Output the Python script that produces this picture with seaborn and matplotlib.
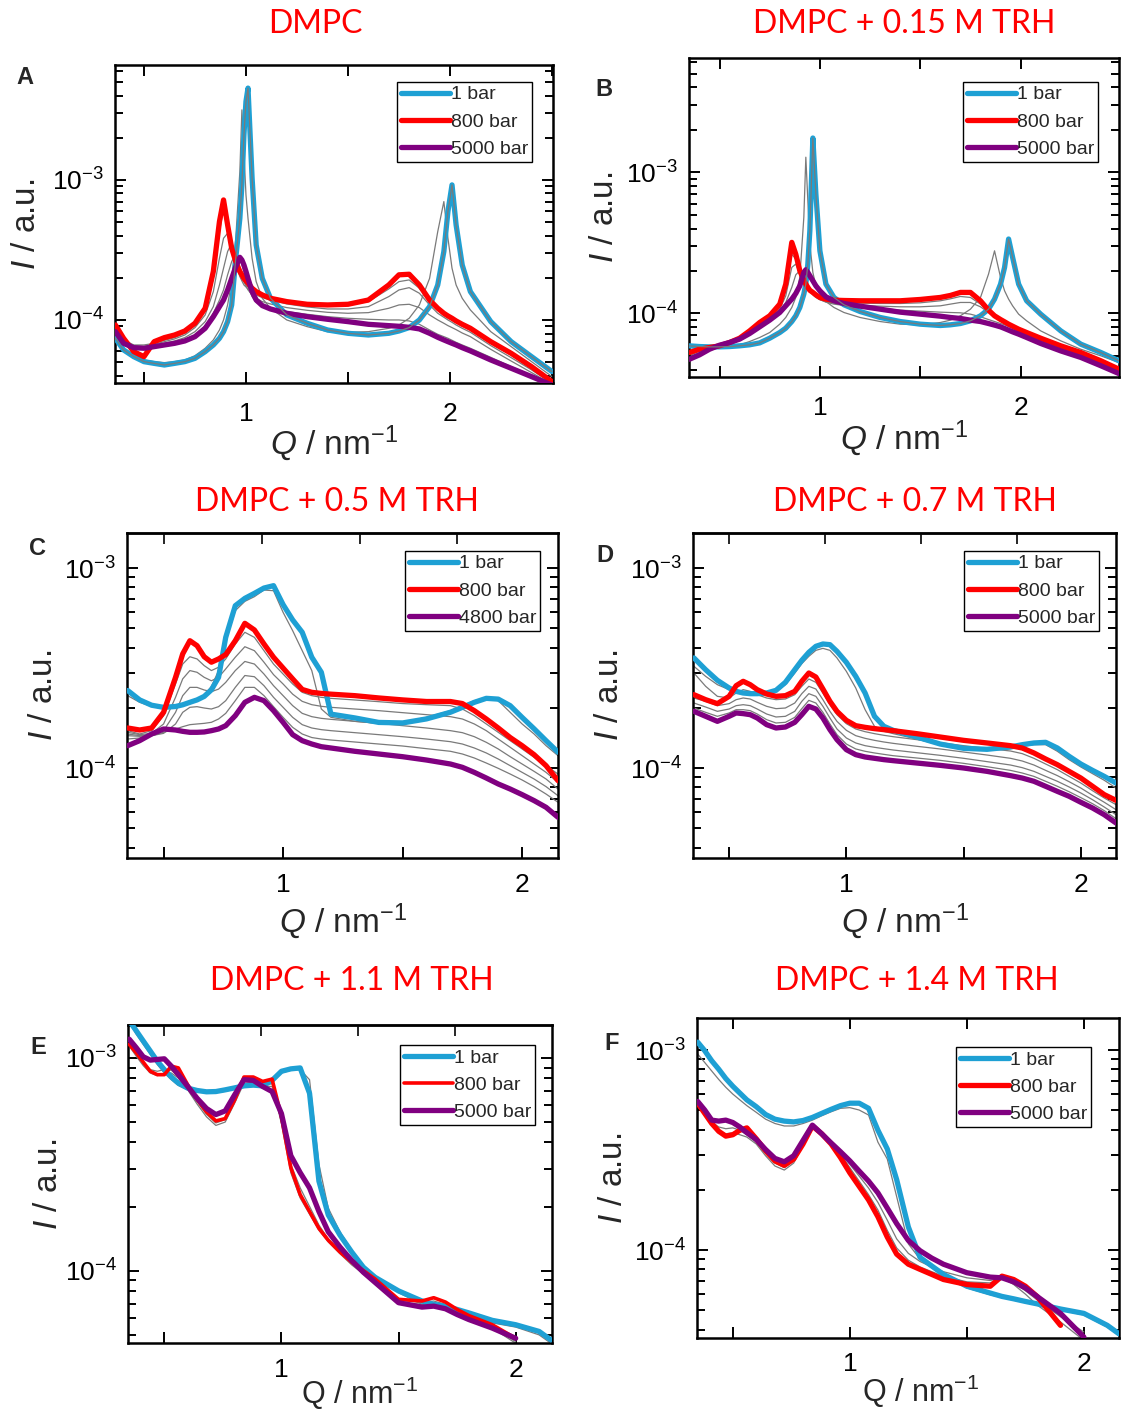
import numpy as np
import matplotlib
matplotlib.use("Agg")
import matplotlib.pyplot as plt
import seaborn as sns
from matplotlib.lines import Line2D
from matplotlib.ticker import (FixedLocator, FuncFormatter, LogLocator,
                               NullFormatter, NullLocator)

# Intensities are given in units of 1e-4 a.u.
UNIT = 1e-4
nan = np.nan

# ---------------- A: DMPC ----------------
q_a = [0.36, 0.40, 0.45, 0.50, 0.55, 0.60, 0.65, 0.70, 0.75, 0.80, 0.84, 0.87, 0.89, 0.91, 0.93,
       0.95, 0.97, 0.98, 0.99, 1.00, 1.01, 1.03, 1.05, 1.08, 1.12, 1.20, 1.30, 1.40, 1.50, 1.60,
       1.70, 1.75, 1.80, 1.85, 1.90, 1.94, 1.97, 1.99, 2.01, 2.03, 2.06, 2.10, 2.20, 2.30, 2.40, 2.50]
a_1bar = [0.740, 0.611, 0.547, 0.504, 0.490, 0.477, 0.490, 0.504, 0.532, 0.594, 0.663, 0.740, 0.825,
          0.973, 1.28, 2.76, 5.31, 9.2, 21.0, 36.3, 45.2, 10.3, 3.43, 1.98, 1.43, 1.086, 0.947, 0.848,
          0.803, 0.781, 0.803, 0.834, 0.882, 1.0, 1.245, 1.778, 3.08, 5.95, 9.21, 4.77, 2.47, 1.594,
          0.973, 0.700, 0.547, 0.428]
a_800bar = [0.921, 0.740, 0.594, 0.547, 0.700, 0.748, 0.781, 0.834, 0.947, 1.212, 2.22, 5.04, 7.19,
            4.77, 3.25, 2.61, 2.22, 2.10, 1.98, 1.90, 1.83, 1.683, 1.594, 1.509, 1.428, 1.352, 1.294,
            1.280, 1.294, 1.388, 1.778, 2.10, 2.12, 1.778, 1.388, 1.212, 1.116, 1.068, 1.028, 0.984,
            0.931, 0.872, 0.700, 0.578, 0.464, 0.363]
a_5000bar = [0.825, 0.681, 0.634, 0.628, 0.645, 0.663, 0.681, 0.708, 0.760, 0.872, 1.056, 1.245,
             1.388, 1.638, 1.98, 2.40, 2.80, 2.68, 2.47, 2.22, 1.98, 1.594, 1.388, 1.266, 1.198,
             1.116, 1.056, 1.011, 0.973, 0.931, 0.911, 0.901, 0.886, 0.863, 0.803, 0.752, 0.720,
             0.700, 0.681, 0.663, 0.634, 0.601, 0.518, 0.452, 0.394, 0.343]
a_g1 = [0.720, 0.611, 0.556, 0.518, 0.504, 0.496, 0.504, 0.518, 0.556, 0.628, 0.720, 0.848, 1.0, 1.28,
        1.878, 3.83, 11.5, 31.6, 15.9, 7.8, 5.31, 2.76, 1.878, 1.428, 1.212, 1.0, 0.896, 0.825, 0.817,
        0.825, 0.872, 0.921, 1.028, 1.28, 1.98, 4.27, 7.00, 3.83, 2.34, 1.778, 1.428, 1.179, 0.825,
        0.645, 0.504, 0.394]
a_g2 = [0.896, 0.720, 0.663, 0.663, 0.681, 0.716, 0.748, 0.803, 0.921, 1.179, 1.98, 4.27, 6.28, 4.51,
        3.08, 2.40, 2.10, 1.98, 1.878, 1.80, 1.73, 1.638, 1.576, 1.509, 1.452, 1.367, 1.308, 1.280,
        1.280, 1.352, 1.665, 1.878, 1.931, 1.683, 1.352, 1.179, 1.086, 1.039, 1.0, 0.962, 0.911,
        0.848, 0.681, 0.562, 0.452, 0.359]
a_g3 = [0.872, 0.708, 0.656, 0.648, 0.670, 0.700, 0.732, 0.781, 0.882, 1.086, 1.594, 2.76, 3.83, 4.16,
        3.25, 2.47, 2.04, 1.90, 1.778, 1.72, 1.665, 1.576, 1.509, 1.444, 1.388, 1.301, 1.239, 1.198,
        1.198, 1.245, 1.468, 1.638, 1.701, 1.551, 1.280, 1.116, 1.045, 1.0, 0.962, 0.921, 0.872,
        0.817, 0.656, 0.538, 0.440, 0.353]
a_g4 = [0.848, 0.700, 0.645, 0.638, 0.656, 0.681, 0.708, 0.748, 0.825, 0.973, 1.245, 1.778, 2.34,
        3.08, 3.53, 3.08, 2.34, 2.10, 1.878, 1.75, 1.638, 1.509, 1.428, 1.352, 1.301, 1.225, 1.172,
        1.134, 1.116, 1.128, 1.212, 1.280, 1.294, 1.225, 1.086, 1.0, 0.947, 0.911, 0.882, 0.853,
        0.807, 0.760, 0.617, 0.509, 0.421, 0.347]
a_g5 = [0.834, 0.689, 0.638, 0.631, 0.648, 0.670, 0.692, 0.724, 0.781, 0.911, 1.116, 1.388, 1.638,
        2.10, 2.61, 2.99, 2.76, 2.47, 2.22, 1.95, 1.73, 1.468, 1.338, 1.266, 1.212, 1.147, 1.098,
        1.056, 1.028, 1.011, 1.0, 1.0, 0.984, 0.931, 0.848, 0.790, 0.760, 0.740, 0.716, 0.692, 0.663,
        0.628, 0.541, 0.464, 0.400, 0.343]

# ---------------- B: DMPC + 0.15 M TRH ----------------
q_b = [0.35, 0.40, 0.45, 0.50, 0.55, 0.60, 0.65, 0.70, 0.75, 0.80, 0.83, 0.86, 0.88, 0.90, 0.92,
       0.93, 0.94, 0.95, 0.965, 0.98, 1.00, 1.03, 1.07, 1.12, 1.20, 1.30, 1.40, 1.50, 1.60, 1.65,
       1.70, 1.75, 1.80, 1.84, 1.87, 1.90, 1.92, 1.94, 1.96, 1.99, 2.03, 2.10, 2.20, 2.30, 2.40, 2.49]
b_1bar = [0.590, 0.583, 0.580, 0.580, 0.583, 0.590, 0.600, 0.619, 0.668, 0.733, 0.787, 0.877, 0.963,
          1.103, 1.371, 1.615, 2.24, 3.86, 17.5, 7.02, 2.78, 1.615, 1.299, 1.152, 1.033, 0.937,
          0.877, 0.840, 0.822, 0.831, 0.849, 0.887, 0.963, 1.073, 1.264, 1.615, 2.12, 3.37, 2.50,
          1.615, 1.230, 0.989, 0.753, 0.606, 0.529, 0.462]
b_800bar = [0.529, 0.558, 0.574, 0.590, 0.623, 0.668, 0.753, 0.863, 0.963, 1.165, 1.615, 3.19, 2.63,
            2.01, 1.72, 1.615, 1.53, 1.46, 1.41, 1.356, 1.299, 1.264, 1.243, 1.236, 1.230, 1.230,
            1.230, 1.257, 1.299, 1.342, 1.41, 1.41, 1.230, 1.056, 0.963, 0.906, 0.873, 0.840, 0.813,
            0.774, 0.733, 0.668, 0.590, 0.529, 0.462, 0.403]
b_5000bar = [0.474, 0.509, 0.558, 0.596, 0.623, 0.658, 0.721, 0.804, 0.897, 1.016, 1.133, 1.264,
             1.386, 1.571, 1.954, 2.04, 1.954, 1.85, 1.705, 1.571, 1.448, 1.313, 1.230, 1.177, 1.127,
             1.073, 1.022, 0.989, 0.957, 0.937, 0.922, 0.897, 0.877, 0.849, 0.827, 0.804, 0.783,
             0.762, 0.741, 0.714, 0.676, 0.613, 0.543, 0.488, 0.426, 0.375]
b_g1 = [0.543, 0.558, 0.568, 0.574, 0.583, 0.600, 0.633, 0.676, 0.733, 0.840, 0.937, 1.103, 1.299,
        1.80, 4.80, 12.8, 6.30, 3.10, 1.954, 1.571, 1.371, 1.216, 1.103, 1.016, 0.937, 0.877, 0.840,
        0.831, 0.863, 0.897, 0.963, 1.073, 1.299, 1.90, 2.78, 1.80, 1.448, 1.264, 1.133, 0.989,
        0.887, 0.753, 0.640, 0.558, 0.501, 0.449]
b_g2 = [0.501, 0.543, 0.568, 0.590, 0.619, 0.661, 0.733, 0.831, 0.937, 1.103, 1.448, 2.63, 2.43, 1.92,
        1.68, 1.589, 1.512, 1.448, 1.386, 1.335, 1.285, 1.243, 1.216, 1.197, 1.184, 1.177, 1.177,
        1.190, 1.230, 1.270, 1.320, 1.299, 1.165, 1.033, 0.952, 0.897, 0.863, 0.831, 0.804, 0.766,
        0.726, 0.658, 0.580, 0.520, 0.457, 0.396]
b_g3 = [0.493, 0.529, 0.565, 0.593, 0.619, 0.658, 0.726, 0.813, 0.917, 1.073, 1.335, 2.12, 2.24, 1.90,
        1.632, 1.554, 1.479, 1.424, 1.356, 1.299, 1.250, 1.210, 1.184, 1.165, 1.146, 1.127, 1.115,
        1.115, 1.133, 1.165, 1.197, 1.197, 1.115, 1.016, 0.947, 0.887, 0.854, 0.822, 0.796, 0.753,
        0.714, 0.640, 0.568, 0.509, 0.444, 0.388]
b_g4 = [0.482, 0.520, 0.562, 0.593, 0.619, 0.654, 0.721, 0.804, 0.902, 1.033, 1.197, 1.53, 1.88, 2.01,
        1.752, 1.641, 1.546, 1.479, 1.394, 1.320, 1.257, 1.203, 1.165, 1.140, 1.115, 1.085, 1.056,
        1.039, 1.022, 1.016, 1.011, 0.989, 0.947, 0.906, 0.877, 0.849, 0.831, 0.809, 0.783, 0.741,
        0.702, 0.630, 0.558, 0.501, 0.437, 0.382]

# ---------------- C: DMPC + 0.5 M TRH ----------------
q_c = [0.35, 0.40, 0.45, 0.50, 0.55, 0.58, 0.61, 0.64, 0.67, 0.70, 0.73, 0.76, 0.80, 0.84, 0.88,
       0.92, 0.96, 1.00, 1.04, 1.08, 1.12, 1.16, 1.20, 1.30, 1.40, 1.50, 1.60, 1.70, 1.75, 1.80,
       1.85, 1.90, 1.95, 2.00, 2.05, 2.10, 2.15]
c_1bar = [2.44, 2.19, 2.06, 2.01, 2.03, 2.07, 2.13, 2.19, 2.28, 2.46, 2.84, 4.50, 6.48, 7.05, 7.47,
          7.94, 8.16, 6.56, 5.50, 4.77, 3.58, 3.01, 1.86, 1.78, 1.69, 1.68, 1.76, 1.90, 2.01, 2.13,
          2.23, 2.21, 2.05, 1.79, 1.57, 1.37, 1.20]
c_800bar = [1.585, 1.549, 1.585, 1.898, 2.84, 3.72, 4.33, 4.09, 3.60, 3.38, 3.51, 3.69, 4.33, 5.29,
            4.90, 4.17, 3.58, 3.16, 2.79, 2.47, 2.39, 2.36, 2.34, 2.30, 2.24, 2.19, 2.15, 2.15, 2.10,
            1.935, 1.758, 1.585, 1.42, 1.293, 1.166, 1.027, 0.864]
c_4800bar = [1.293, 1.37, 1.479, 1.567, 1.549, 1.525, 1.508, 1.508, 1.514, 1.537, 1.567, 1.628, 1.827,
             2.13, 2.256, 2.171, 1.935, 1.692, 1.468, 1.37, 1.318, 1.278, 1.259, 1.212, 1.175, 1.139,
             1.096, 1.047, 1.008, 0.951, 0.891, 0.832, 0.785, 0.736, 0.687, 0.636, 0.567]
c_g0 = [2.30, 2.13, 2.034, 1.995, 2.011, 2.05, 2.10, 2.188, 2.326, 2.551, 3.07, 4.33, 6.12, 6.81, 7.19,
        7.76, 7.70, 6.00, 4.86, 3.86, 3.07, 1.972, 1.792, 1.711, 1.672, 1.692, 1.792, 1.935, 2.05,
        2.171, 2.213, 2.171, 1.898, 1.66, 1.479, 1.293, 1.153]
c_g1 = [1.537, 1.479, 1.537, 1.827, 2.63, 3.31, 3.60, 3.51, 3.25, 3.07, 3.19, 3.51, 4.17, 4.77, 4.50,
        3.86, 3.31, 2.95, 2.63, 2.39, 2.30, 2.256, 2.23, 2.188, 2.146, 2.10, 2.073, 2.05, 1.972, 1.827,
        1.66, 1.508, 1.37, 1.245, 1.131, 1.027, 0.933]
c_g2 = [1.508, 1.468, 1.490, 1.66, 2.256, 2.79, 3.07, 3.01, 2.84, 2.73, 2.84, 3.13, 3.58, 4.04, 3.86,
        3.38, 2.93, 2.63, 2.34, 2.154, 2.073, 2.034, 2.011, 1.972, 1.935, 1.891, 1.848, 1.806, 1.758,
        1.66, 1.537, 1.396, 1.269, 1.153, 1.047, 0.951, 0.848]
c_g3 = [1.479, 1.451, 1.468, 1.537, 1.898, 2.30, 2.53, 2.53, 2.455, 2.408, 2.48, 2.68, 3.07, 3.41, 3.31,
        2.95, 2.58, 2.30, 2.05, 1.876, 1.806, 1.771, 1.751, 1.711, 1.672, 1.628, 1.585, 1.537, 1.502,
        1.434, 1.344, 1.245, 1.139, 1.047, 0.962, 0.881, 0.785]
c_g4 = [1.451, 1.440, 1.451, 1.490, 1.66, 1.898, 2.011, 2.026, 1.995, 1.972, 2.026, 2.171, 2.53, 2.90,
        2.86, 2.58, 2.256, 2.011, 1.792, 1.647, 1.585, 1.555, 1.537, 1.502, 1.468, 1.434, 1.396, 1.354,
        1.318, 1.259, 1.189, 1.109, 1.027, 0.951, 0.881, 0.807, 0.727]
c_g5 = [1.396, 1.413, 1.451, 1.508, 1.567, 1.609, 1.647, 1.66, 1.672, 1.692, 1.758, 1.876, 2.171, 2.53,
        2.53, 2.30, 2.026, 1.792, 1.597, 1.479, 1.42, 1.396, 1.380, 1.349, 1.318, 1.288, 1.249, 1.212,
        1.175, 1.122, 1.059, 0.996, 0.933, 0.871, 0.807, 0.741, 0.674]

# ---------------- D: DMPC + 0.7 M TRH ----------------
q_d = [0.35, 0.40, 0.45, 0.50, 0.53, 0.56, 0.59, 0.62, 0.66, 0.70, 0.74, 0.78, 0.81, 0.84, 0.87,
       0.90, 0.93, 0.96, 1.00, 1.04, 1.08, 1.12, 1.16, 1.20, 1.30, 1.40, 1.50, 1.60, 1.70, 1.75,
       1.80, 1.85, 1.90, 1.95, 2.00, 2.05, 2.10, 2.15]
d_1bar = [3.55, 3.10, 2.744, 2.512, 2.417, 2.371, 2.353, 2.353, 2.371, 2.445, 2.681, 3.10, 3.454, 3.787,
          4.059, 4.169, 4.137, 3.831, 3.376, 2.873, 2.371, 1.813, 1.616, 1.543, 1.429, 1.318, 1.254,
          1.240, 1.274, 1.308, 1.334, 1.344, 1.259, 1.144, 1.047, 0.973, 0.908, 0.841]
d_800bar = [2.326, 2.196, 2.098, 2.282, 2.58, 2.713, 2.61, 2.465, 2.344, 2.282, 2.30, 2.417, 2.713,
            2.985, 2.851, 2.483, 2.154, 1.920, 1.731, 1.628, 1.597, 1.573, 1.555, 1.537, 1.485, 1.429,
            1.375, 1.334, 1.293, 1.259, 1.189, 1.109, 1.039, 0.962, 0.891, 0.810, 0.736, 0.689]
d_5000bar = [1.920, 1.813, 1.711, 1.813, 1.884, 1.870, 1.848, 1.778, 1.647, 1.585, 1.603, 1.692, 1.848,
             2.034, 1.972, 1.778, 1.555, 1.386, 1.235, 1.166, 1.135, 1.118, 1.101, 1.088, 1.059, 1.031,
             1.0, 0.962, 0.916, 0.891, 0.858, 0.810, 0.764, 0.722, 0.674, 0.631, 0.584, 0.531]
d_g0 = [3.224, 2.873, 2.61, 2.465, 2.389, 2.353, 2.335, 2.326, 2.353, 2.417, 2.61, 2.985, 3.324, 3.617,
        3.875, 3.965, 3.875, 3.55, 3.043, 2.512, 1.957, 1.616, 1.525, 1.485, 1.396, 1.303, 1.245,
        1.226, 1.249, 1.284, 1.308, 1.308, 1.212, 1.101, 1.012, 0.937, 0.868, 0.794]
d_g1 = [2.985, 2.561, 2.282, 2.239, 2.371, 2.465, 2.417, 2.326, 2.239, 2.196, 2.213, 2.326, 2.561, 2.786,
        2.681, 2.371, 2.073, 1.848, 1.666, 1.567, 1.519, 1.485, 1.457, 1.434, 1.386, 1.339, 1.293,
        1.254, 1.216, 1.180, 1.118, 1.047, 0.981, 0.908, 0.841, 0.770, 0.708, 0.656]
d_g2 = [2.239, 2.154, 2.05, 2.098, 2.196, 2.239, 2.213, 2.13, 2.034, 1.980, 1.995, 2.113, 2.353, 2.561,
        2.483, 2.196, 1.920, 1.711, 1.543, 1.451, 1.407, 1.375, 1.349, 1.328, 1.284, 1.245, 1.202,
        1.161, 1.118, 1.084, 1.035, 0.973, 0.916, 0.854, 0.794, 0.730, 0.674, 0.619]
d_g3 = [2.113, 2.018, 1.920, 1.972, 2.05, 2.073, 2.05, 1.972, 1.862, 1.799, 1.813, 1.920, 2.154, 2.353,
        2.282, 2.034, 1.778, 1.567, 1.413, 1.334, 1.293, 1.269, 1.249, 1.230, 1.193, 1.157, 1.118,
        1.076, 1.035, 1.004, 0.962, 0.908, 0.858, 0.804, 0.750, 0.694, 0.638, 0.584]
d_g4 = [1.995, 1.898, 1.813, 1.884, 1.957, 1.957, 1.935, 1.862, 1.745, 1.679, 1.692, 1.792, 1.980, 2.179,
        2.113, 1.898, 1.66, 1.468, 1.318, 1.245, 1.212, 1.189, 1.170, 1.152, 1.122, 1.092, 1.055,
        1.015, 0.973, 0.944, 0.908, 0.858, 0.810, 0.761, 0.711, 0.663, 0.612, 0.558]

# ---------------- E: DMPC + 1.1 M TRH ----------------
q_e = [0.35, 0.38, 0.41, 0.44, 0.47, 0.50, 0.53, 0.56, 0.60, 0.64, 0.68, 0.72, 0.76, 0.80, 0.84,
       0.88, 0.92, 0.96, 1.00, 1.04, 1.08, 1.12, 1.16, 1.20, 1.25, 1.30, 1.35, 1.40, 1.50, 1.60,
       1.65, 1.70, 1.75, 1.80, 1.90, 2.00, 2.10, 2.15]
e_1bar = [14.95, 13.40, 12.0, 10.76, 9.64, 8.80, 8.12, 7.60, 7.20, 7.02, 6.92, 6.94, 7.07, 7.22, 7.38,
          7.44, 7.38, 7.83, 8.64, 8.87, 8.96, 6.81, 2.634, 1.827, 1.468, 1.223, 1.037, 0.930, 0.803,
          0.720, 0.694, 0.681, 0.657, 0.633, 0.584, 0.557, 0.518, 0.473]
e_800bar = [11.57, 10.56, 9.54, 8.64, 8.33, 8.33, 9.13, 8.96, 7.46, 6.38, 5.57, 5.05, 5.18, 6.33, 8.12,
            8.12, 7.74, 7.94, 5.28, 3.05, 2.276, 1.896, 1.579, 1.389, 1.223, 1.096, 1.0, 0.913, 0.733,
            0.720, 0.746, 0.712, 0.657, 0.615, 0.557, 0.481, nan, nan]
e_5000bar = [12.23, 11.16, 10.11, 9.75, 9.82, 9.89, 9.13, 8.33, 7.33, 6.45, 5.78, 5.41, 5.63, 6.69, 7.89,
             7.83, 7.33, 6.94, 5.47, 3.47, 2.886, 2.448, 1.896, 1.522, 1.291, 1.116, 0.982, 0.880,
             0.707, 0.674, 0.681, 0.662, 0.622, 0.589, 0.537, 0.481, nan, nan]
e_g0 = [14.68, 12.92, 11.57, 10.37, 9.30, 8.48, 7.89, 7.41, 7.07, 6.92, 6.86, 6.86, 6.96, 7.12, 7.28,
        7.33, 7.28, 7.66, 8.48, 8.74, 8.80, 7.89, 3.16, 1.966, 1.522, 1.245, 1.056, 0.947, 0.788, 0.694,
        0.674, 0.662, 0.638, 0.611, 0.568, 0.543, 0.499, 0.456]
e_g1 = [11.36, 10.18, 9.19, 8.48, 8.24, 8.48, 8.48, 8.03, 7.07, 6.06, 5.28, 4.81, 4.99, 6.11, 7.60,
        7.66, 7.46, 7.55, 4.90, 2.886, 2.194, 1.841, 1.550, 1.364, 1.200, 1.064, 0.964, 0.880, 0.712,
        0.694, 0.707, 0.681, 0.633, 0.593, 0.537, 0.456, nan, nan]
e_g2 = [11.79, 10.56, 9.47, 8.80, 8.64, 8.80, 8.74, 8.18, 7.20, 6.22, 5.43, 4.94, 5.12, 6.22, 7.74,
        7.74, 7.38, 7.33, 5.09, 3.16, 2.448, 2.003, 1.638, 1.405, 1.232, 1.088, 0.982, 0.896, 0.728,
        0.707, 0.720, 0.694, 0.645, 0.600, 0.547, 0.464, nan, nan]

# ---------------- F: DMPC + 1.4 M TRH ----------------
q_f = [0.35, 0.38, 0.41, 0.44, 0.47, 0.50, 0.53, 0.56, 0.60, 0.64, 0.68, 0.72, 0.76, 0.80, 0.84,
       0.88, 0.92, 0.96, 1.00, 1.04, 1.08, 1.12, 1.16, 1.20, 1.25, 1.30, 1.35, 1.40, 1.50, 1.60,
       1.65, 1.70, 1.75, 1.80, 1.90, 2.00, 2.10, 2.15]
f_1bar = [10.94, 9.92, 8.83, 8.01, 7.20, 6.59, 6.09, 5.63, 5.21, 4.76, 4.51, 4.41, 4.37, 4.44, 4.60,
          4.82, 5.05, 5.27, 5.42, 5.42, 5.11, 3.97, 3.20, 2.25, 1.304, 0.918, 0.832, 0.755, 0.659,
          0.609, 0.586, 0.570, 0.553, 0.538, 0.507, 0.482, 0.420, 0.381]
f_800bar = [5.42, 4.82, 4.29, 3.92, 3.71, 3.77, 3.97, 4.08, 3.60, 3.14, 2.79, 2.65, 2.85, 3.39, 4.17,
            3.81, 3.39, 2.90, 2.43, 2.08, 1.78, 1.466, 1.160, 0.954, 0.849, 0.800, 0.755, 0.712,
            0.672, 0.659, 0.740, 0.712, 0.659, 0.586, 0.420, nan, nan, nan]
f_5000bar = [5.53, 5.01, 4.46, 4.41, 4.46, 4.34, 4.12, 3.86, 3.57, 3.18, 2.87, 2.76, 2.96, 3.53, 4.21,
             3.81, 3.43, 3.10, 2.79, 2.48, 2.21, 1.93, 1.62, 1.356, 1.116, 0.992, 0.911, 0.849, 0.770,
             0.732, 0.726, 0.693, 0.646, 0.586, 0.482, 0.367, nan, nan]
f_g0 = [9.54, 8.66, 7.85, 7.12, 6.51, 6.02, 5.63, 5.27, 4.88, 4.51, 4.29, 4.17, 4.17, 4.29, 4.46, 4.69,
        4.91, 5.11, 5.15, 5.01, 4.73, 3.46, 2.85, 1.85, 1.073, 0.900, 0.816, 0.740, 0.646, 0.597,
        0.579, 0.561, 0.546, 0.531, 0.501, 0.473, 0.412, 0.374]
f_g1 = [5.31, 4.73, 4.21, 3.89, 3.81, 3.86, 3.77, 3.67, 3.39, 2.96, 2.63, 2.51, 2.72, 3.33, 4.12, 3.86,
        3.46, 3.02, 2.58, 2.21, 1.89, 1.585, 1.254, 1.024, 0.889, 0.823, 0.779, 0.740, 0.693, 0.685,
        0.726, 0.672, 0.602, 0.531, 0.437, 0.353, nan, nan]
f_g2 = [5.42, 4.88, 4.37, 4.12, 4.04, 4.08, 3.97, 3.77, 3.46, 3.05, 2.72, 2.58, 2.79, 3.43, 4.17, 3.86,
        3.43, 3.05, 2.68, 2.34, 2.04, 1.73, 1.41, 1.137, 0.962, 0.876, 0.823, 0.779, 0.726, 0.704,
        0.726, 0.685, 0.626, 0.563, 0.464, 0.389, nan, nan]

titles = ["DMPC", "DMPC + 0.15 M TRH", "DMPC + 0.5 M TRH",
          "DMPC + 0.7 M TRH", "DMPC + 1.1 M TRH", "DMPC + 1.4 M TRH"]
letters = ["A", "B", "C", "D", "E", "F"]
pressures_default = ["1 bar", "800 bar", "5000 bar"]
pressures_c = ["1 bar", "800 bar", "4800 bar"]

BLUE = "#1ea0d4"
RED = "#ff0000"
PURPLE = "#800080"
GRAY = "#7a7a7a"

sns.set_style("ticks")
plt.rcParams["font.family"] = ["Liberation Sans", "DejaVu Sans"]
plt.rcParams["mathtext.fontset"] = "custom"
plt.rcParams["mathtext.rm"] = "Liberation Sans"
plt.rcParams["mathtext.it"] = "Liberation Sans:italic"
plt.rcParams["mathtext.bf"] = "Liberation Sans:bold"

W, H = 1122, 1411
fig = plt.figure(figsize=(W / 100, H / 100), dpi=100)


def rect(l, r, t, b):
    return [l / W, 1 - b / H, (r - l) / W, (b - t) / H]


panels = [
    dict(rect=rect(115, 553, 65, 383), q=q_a, blue=a_1bar, red=a_800bar, purple=a_5000bar,
         grays=[a_g1, a_g2, a_g3, a_g4, a_g5], overlay=True, xlim=(0.358, 2.505),
         ylim=(10 ** -4.45, 10 ** -2.18), topk=None, labels=pressures_default,
         anchor=(0.952, 0.947), italic=True, xlab=(0.5, -0.125), ylab_x=-0.167,
         red_lw=3.8, xpad=14, xlab_size=24),
    dict(rect=rect(689, 1119, 58, 377), q=q_b, blue=b_1bar, red=b_800bar, purple=b_5000bar,
         grays=[b_g1, b_g2, b_g3, b_g4], overlay=True, xlim=(0.348, 2.49),
         ylim=(10 ** -4.45, 10 ** -2.19), topk=None, labels=pressures_default,
         anchor=(0.951, 0.925), italic=True, xlab=(0.5, -0.128), ylab_x=-0.16,
         red_lw=3.8, xpad=14, xlab_size=24),
    dict(rect=rect(127, 558, 533, 858), q=q_c, blue=c_1bar, red=c_800bar, purple=c_4800bar,
         grays=[c_g0, c_g1, c_g2, c_g3, c_g4, c_g5], overlay=False, xlim=(0.347, 2.15),
         ylim=(10 ** -4.45, 10 ** -2.825), topk=1.22, labels=pressures_c,
         anchor=(0.958, 0.945), italic=True, xlab=(0.5, -0.132), ylab_x=-0.158,
         red_lw=3.8, xpad=11, xlab_size=24),
    dict(rect=rect(693, 1116, 533, 858), q=q_d, blue=d_1bar, red=d_800bar, purple=d_5000bar,
         grays=[d_g0, d_g1, d_g2, d_g3, d_g4], overlay=False, xlim=(0.346, 2.15),
         ylim=(10 ** -4.45, 10 ** -2.825), topk=1.22, labels=pressures_default,
         anchor=(0.960, 0.945), italic=True, xlab=(0.5, -0.132), ylab_x=-0.16,
         red_lw=3.8, xpad=11, xlab_size=24),
    dict(rect=rect(128, 552, 1025, 1343), q=q_e, blue=e_1bar, red=e_800bar, purple=e_5000bar,
         grays=[e_g0, e_g1, e_g2], overlay=False, xlim=(0.345, 2.155),
         ylim=(10 ** -4.34, 10 ** -2.846), topk=1.21, labels=pressures_default,
         anchor=(0.960, 0.937), italic=False, xlab=(0.545, -0.1), ylab_x=-0.15,
         red_lw=2.6, xpad=11, xlab_size=22),
    dict(rect=rect(697, 1119, 1018, 1338), q=q_f, blue=f_1bar, red=f_800bar, purple=f_5000bar,
         grays=[f_g0, f_g1, f_g2], overlay=False, xlim=(0.347, 2.15),
         ylim=(10 ** -4.44, 10 ** -2.84), topk=None, labels=pressures_default,
         anchor=(0.934, 0.909), italic=False, xlab=(0.53, -0.11), ylab_x=-0.162,
         red_lw=3.8, xpad=10, xlab_size=22),
]

title_pos = [(315, 24), (904, 24), (337, 502), (915, 502), (352, 981), (917, 981)]
letter_pos = [(25, 78), (604, 90), (37, 548), (605, 556), (38, 1048), (612, 1043)]

LW = 3.8


def curve(ax, q, vals, color, lw, z):
    sns.lineplot(x=np.asarray(q, float), y=np.asarray(vals, float) * UNIT, ax=ax,
                 color=color, linewidth=lw, zorder=z, estimator=None, sort=False,
                 legend=False)


def x_label_fmt(v, pos):
    if abs(v - 1.0) < 1e-9:
        return "1"
    if abs(v - 2.0) < 1e-9:
        return "2"
    return ""


for i, p in enumerate(panels):
    ax = fig.add_axes(p["rect"])
    ax.set_yscale("log")
    for g in p["grays"]:
        curve(ax, p["q"], g, GRAY, 0.9, 2)
    curve(ax, p["q"], p["blue"], BLUE, LW, 3)
    curve(ax, p["q"], p["red"], RED, p["red_lw"], 3.1)
    curve(ax, p["q"], p["purple"], PURPLE, LW, 3.2)
    if p["overlay"]:
        curve(ax, p["q"], p["blue"], GRAY, 0.9, 4)

    ax.set_xlim(*p["xlim"])
    ax.set_ylim(*p["ylim"])

    ax.xaxis.set_major_locator(FixedLocator([0.5, 1.0, 1.5, 2.0, 2.5]))
    ax.xaxis.set_minor_locator(NullLocator())
    ax.xaxis.set_major_formatter(FuncFormatter(x_label_fmt))
    ax.yaxis.set_major_locator(LogLocator(base=10, numticks=10))
    ax.yaxis.set_minor_locator(LogLocator(base=10, subs=np.arange(2, 10), numticks=30))
    ax.yaxis.set_minor_formatter(NullFormatter())

    ax.tick_params(axis="both", which="both", direction="in", right=True,
                   top=p["topk"] is None, width=1.4, colors="black")
    ax.tick_params(which="major", length=8)
    ax.tick_params(which="minor", length=6)
    ax.tick_params(axis="x", labelsize=19, pad=p["xpad"])
    ax.tick_params(axis="y", labelsize=19, pad=8)

    if p["topk"] is not None:
        k = p["topk"]
        sec = ax.secondary_xaxis(
            "top",
            functions=(lambda x, k=k: 0.5 + (x - 0.5) * k,
                       lambda t, k=k: 0.5 + (t - 0.5) / k))
        sec.set_xticks([0.5, 1.0, 1.5, 2.0])
        sec.xaxis.set_minor_locator(NullLocator())
        sec.tick_params(direction="in", length=8, width=1.4, labeltop=False)
        sec.spines["top"].set_linewidth(1.8)

    for s in ax.spines.values():
        s.set_linewidth(1.8)
        s.set_color("black")

    qsym = r"$\mathit{Q}$" if p["italic"] else "Q"
    ax.set_xlabel(qsym + r" / nm$^{-1}$", fontsize=p["xlab_size"])
    ax.xaxis.set_label_coords(*p["xlab"])
    ax.set_ylabel(r"$\mathit{I}$ / a.u.", fontsize=24)
    ax.yaxis.set_label_coords(p["ylab_x"], 0.5)

    handles = [Line2D([], [], color=BLUE, linewidth=LW),
               Line2D([], [], color=RED, linewidth=p["red_lw"]),
               Line2D([], [], color=PURPLE, linewidth=LW)]
    leg = ax.legend(handles, p["labels"], loc="upper right", bbox_to_anchor=p["anchor"],
                    borderaxespad=0, frameon=True, fancybox=False, edgecolor="black",
                    framealpha=1, fontsize=14, handlelength=2.5, handletextpad=0.05,
                    borderpad=0.2, labelspacing=0.5)
    leg.get_frame().set_linewidth(1.0)
    leg.set_zorder(10)

    tx, ty = title_pos[i]
    fig.text(tx / W, 1 - ty / H, titles[i], color=RED, fontsize=23,
             family=["Lato", "DejaVu Sans"], ha="center", va="center")
    lx, ly = letter_pos[i]
    fig.text(lx / W, 1 - ly / H, letters[i], fontsize=17, fontweight="bold",
             ha="center", va="center")

fig.savefig("out.png", dpi=100)
